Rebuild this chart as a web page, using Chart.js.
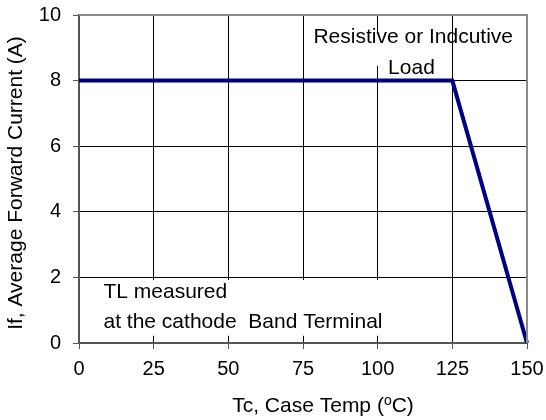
<!DOCTYPE html>
<html>
<head>
<meta charset="utf-8">
<script src="https://cdn.jsdelivr.net/npm/chart.js@4/dist/chart.umd.min.js"></script>
<style>
  html, body { margin: 0; padding: 0; background: #fff; }
  #wrap { width: 546px; height: 420px; }
</style>
</head>
<body>
<div id="wrap"><canvas id="chart"></canvas></div>
<script>
// data
const caseTemp = [0, 125, 150];
const fwdCurrent = [8, 8, 0];
const xTicks = [0, 25, 50, 75, 100, 125, 150];
const yTicks = [0, 2, 4, 6, 8, 10];

const FONT = "'Liberation Sans', Arial, sans-serif";

// notes inside the plot, anchored in data units
const notes = [
  { lines: ["Resistive or Indcutive"], x: 78.5, y: 9.15, box: [75.5, 124.5, 9.45, 8.45] },
  { lines: ["Load"], x: 103.5, y: 8.2, box: null },
  { lines: ["TL measured", "at the cathode  Band Terminal"], x: 8.2, y: 1.37, box: [0.5, 115, 1.92, 0.22] },
];

const plotDecor = {
  id: "plotDecor",
  beforeDatasetsDraw(chart) {
    const { ctx, scales: { x, y } } = chart;
    ctx.save();
    ctx.fillStyle = "#fff";
    notes.forEach(n => {
      if (!n.box) return;
      const x0 = x.getPixelForValue(n.box[0]), x1 = x.getPixelForValue(n.box[1]);
      const y0 = y.getPixelForValue(n.box[2]), y1 = y.getPixelForValue(n.box[3]);
      ctx.fillRect(x0, y0, x1 - x0, y1 - y0);
    });
    ctx.restore();
  },
  afterDatasetsDraw(chart) {
    const { ctx, chartArea: a, scales: { x, y } } = chart;
    ctx.save();
    // frame
    ctx.strokeStyle = "#8a8a8a";
    ctx.lineWidth = 2;
    ctx.beginPath();
    ctx.moveTo(a.left, a.top);
    ctx.lineTo(a.right, a.top);
    ctx.lineTo(a.right, a.bottom);
    ctx.stroke();

    ctx.fillStyle = "#000";
    ctx.font = "21px " + FONT;
    ctx.textBaseline = "alphabetic";
    ctx.textAlign = "left";
    notes.forEach(n => {
      const px = x.getPixelForValue(n.x);
      const py = y.getPixelForValue(n.y);
      n.lines.forEach((t, i) => ctx.fillText(t, px, py + i * 30));
    });

    // x title with superscript o
    const p1 = "Tc, Case Temp (", p2 = "o", p3 = "C)";
    ctx.font = "21px " + FONT;
    const w1 = ctx.measureText(p1).width, w3 = ctx.measureText(p3).width;
    ctx.font = "14px " + FONT;
    const w2 = ctx.measureText(p2).width;
    const tx = 323 - (w1 + w2 + w3) / 2;
    const ty = 412;
    ctx.font = "21px " + FONT;
    ctx.fillText(p1, tx, ty);
    ctx.font = "14px " + FONT;
    ctx.fillText(p2, tx + w1, ty - 7);
    ctx.font = "21px " + FONT;
    ctx.fillText(p3, tx + w1 + w2, ty);

    // y title
    ctx.font = "21px " + FONT;
    ctx.translate(22, (a.top + a.bottom) / 2 + 4);
    ctx.rotate(-Math.PI / 2);
    ctx.textAlign = "center";
    ctx.fillText("If, Average Forward Current (A)", 0, 0);
    ctx.restore();
  }
};

new Chart(document.getElementById("chart"), {
  type: "scatter",
  data: {
    datasets: [{
      data: caseTemp.map((t, i) => ({ x: t, y: fwdCurrent[i] })),
      showLine: true,
      borderColor: "#000080",
      borderWidth: 4,
      pointRadius: 0,
      tension: 0,
      clip: false,
    }]
  },
  options: {
    responsive: true,
    maintainAspectRatio: false,
    animation: false,
    layout: { padding: { top: 15, right: 19, left: 0, bottom: 0 } },
    plugins: { legend: { display: false }, tooltip: { enabled: false } },
    scales: {
      x: {
        type: "linear",
        min: 0, max: 150,
        afterFit(s) { s.height = 77; s.paddingLeft = 0; s.paddingRight = 0; },
        afterBuildTicks(s) { s.ticks = xTicks.map(v => ({ value: v })); },
        grid: { color: "#000", lineWidth: 1, tickLength: 6, tickColor: "#555" },
        border: { color: "#555", width: 2 },
        ticks: { color: "#000", font: { family: FONT, size: 20 }, padding: 8, maxRotation: 0 },
      },
      y: {
        min: 0, max: 10,
        afterFit(s) { s.width = 79; s.paddingTop = 0; s.paddingBottom = 0; },
        afterBuildTicks(s) { s.ticks = yTicks.map(v => ({ value: v })); },
        grid: { color: "#000", lineWidth: 1, tickLength: 6, tickColor: "#555" },
        border: { color: "#555", width: 2 },
        ticks: { color: "#000", font: { family: FONT, size: 20 }, padding: 12 },
      }
    }
  },
  plugins: [plotDecor]
});
</script>
</body>
</html>
